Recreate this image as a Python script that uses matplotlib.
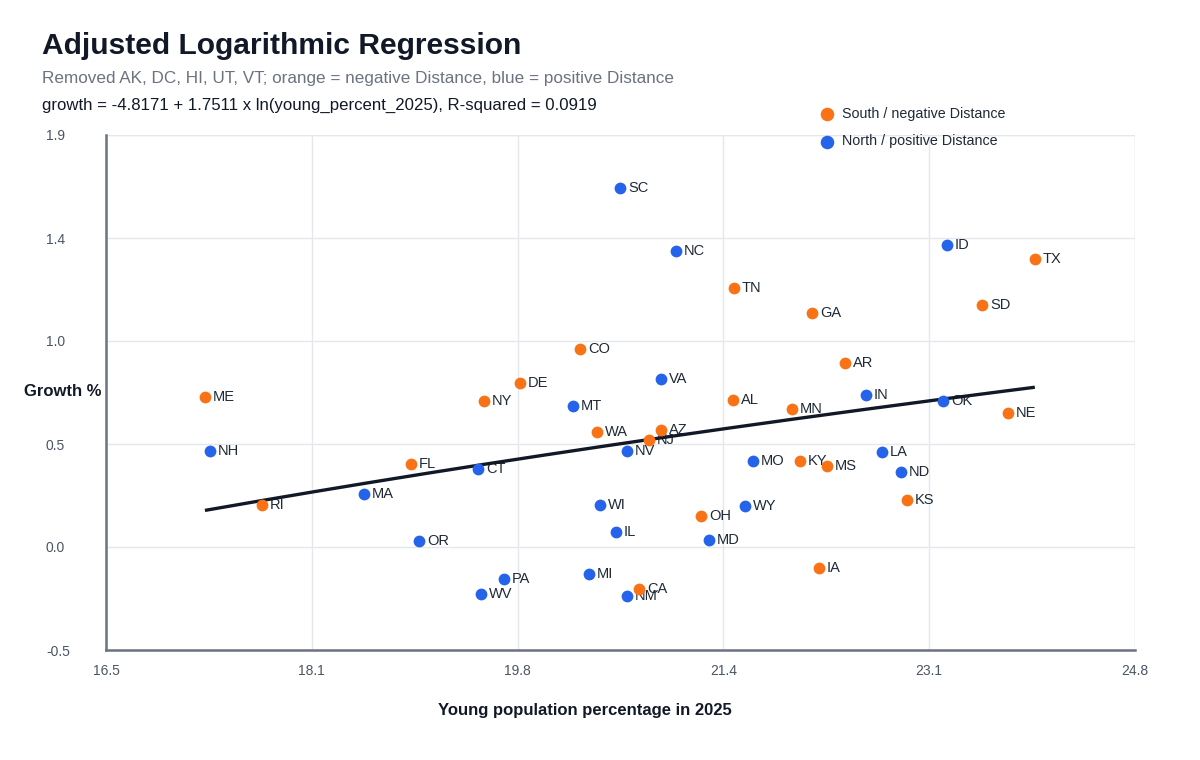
import numpy as np
import matplotlib
matplotlib.use("Agg")
import matplotlib.pyplot as plt

plt.rcParams['font.family'] = ['Liberation Sans', 'DejaVu Sans']

# ---------------- data ----------------
states = ["ME", "NH", "RI", "MA", "FL", "OR", "CT", "NY", "DE", "PA", "WV", "CO",
          "MT", "WA", "MI", "WI", "SC", "IL", "NV", "NM", "CA", "NJ", "AZ", "VA",
          "NC", "OH", "MD", "AL", "TN", "WY", "MO", "MN", "KY", "GA", "IA", "MS",
          "AR", "IN", "LA", "ND", "KS", "OK", "ID", "SD", "NE", "TX"]
young_pct = [17.258, 17.299, 17.718, 18.541, 18.920, 18.984, 19.460, 19.508, 19.799,
             19.670, 19.484, 20.283, 20.226, 20.420, 20.355, 20.444, 20.605, 20.573,
             20.662, 20.662, 20.758, 20.839, 20.936, 20.936, 21.057, 21.258, 21.323,
             21.516, 21.525, 21.613, 21.678, 21.992, 22.057, 22.154, 22.210, 22.275,
             22.420, 22.589, 22.718, 22.871, 22.920, 23.210, 23.242, 23.525, 23.734,
             23.952]
growth = [0.699, 0.447, 0.196, 0.247, 0.387, 0.028, 0.363, 0.680, 0.764, -0.149,
          -0.219, 0.923, 0.657, 0.536, -0.126, 0.196, 1.673, 0.070, 0.447, -0.228,
          -0.196, 0.499, 0.545, 0.783, 1.379, 0.144, 0.033, 0.685, 1.207, 0.191,
          0.401, 0.643, 0.401, 1.090, -0.098, 0.377, 0.857, 0.708, 0.443, 0.349,
          0.219, 0.680, 1.407, 1.128, 0.624, 1.342]
group = ["S", "N", "S", "N", "S", "N", "N", "S", "S", "N", "N", "S",
         "N", "S", "N", "N", "N", "N", "N", "N", "S", "S", "S", "N",
         "N", "S", "N", "S", "S", "N", "N", "S", "S", "S", "S", "S",
         "S", "N", "N", "N", "S", "N", "N", "S", "S", "S"]

intercept = -4.8171
slope = 1.7511

x_ticks = [16.46, 18.12, 19.78, 21.44, 23.10, 24.76]
x_tick_labels = ["16.5", "18.1", "19.8", "21.4", "23.1", "24.8"]
y_ticks = [-0.48, 0.00, 0.48, 0.96, 1.44, 1.92]
y_tick_labels = ["-0.5", "0.0", "0.5", "1.0", "1.4", "1.9"]

legend_labels = {"S": "South / negative Distance", "N": "North / positive Distance"}
colors = {"S": "#f97316", "N": "#2563eb"}

# ---------------- figure ----------------
fig = plt.figure(figsize=(12, 7.6), dpi=100)
ax = fig.add_axes([106 / 1200, 1 - 650 / 760, (1135 - 106) / 1200, (650 - 135) / 760])

ax.set_xlim(x_ticks[0], x_ticks[-1])
ax.set_ylim(y_ticks[0], y_ticks[-1])
ax.set_xticks(x_ticks)
ax.set_xticklabels(x_tick_labels)
ax.set_yticks(y_ticks)
ax.set_yticklabels(y_tick_labels, ha="left")

ax.grid(True, color="#e5e7eb", linewidth=1, zorder=0)
ax.set_axisbelow(True)
for s in ["top", "right"]:
    ax.spines[s].set_visible(False)
for s in ["left", "bottom"]:
    ax.spines[s].set_color("#6b7280")
    ax.spines[s].set_linewidth(1.8)
# plot edge grid lines
ax.axhline(y_ticks[-1], color="#e5e7eb", linewidth=1, zorder=0)
ax.axvline(x_ticks[-1], color="#e5e7eb", linewidth=1, zorder=0)

ax.tick_params(axis="both", length=0, labelsize=10, colors="#4b5563", pad=10)
ax.tick_params(axis="y", pad=43.2)

# trendline
xs = np.linspace(min(young_pct), max(young_pct), 200)
ax.plot(xs, intercept + slope * np.log(xs), color="#111827", linewidth=2.4,
        zorder=3, solid_capstyle="butt")

# points
xa = np.array(young_pct)
ya = np.array(growth)
ga = np.array(group)
for g in ["S", "N"]:
    m = ga == g
    ax.scatter(xa[m], ya[m], s=72, color=colors[g], zorder=4, linewidths=0,
               label=legend_labels[g])

for st, x, y in zip(states, young_pct, growth):
    ax.annotate(st, (x, y), xytext=(8, 0), textcoords="offset pixels",
                ha="left", va="center", fontsize=10.5, color="#1f2937", zorder=2)

# legend
leg = ax.legend(loc="upper left", bbox_to_anchor=(813 / 1200, 1 - 101 / 760),
                bbox_transform=fig.transFigure, frameon=False, fontsize=10.3,
                handletextpad=0.45, labelspacing=0.95, borderaxespad=0,
                handlelength=1.2, markerscale=1.15)
for t in leg.get_texts():
    t.set_color("#1f2937")

# axis titles
fig.text(24 / 1200, 1 - 391 / 760, "Growth %", fontsize=12, fontweight="bold",
         color="#111827", ha="left", va="center")
fig.text(585 / 1200, 1 - 711 / 760, "Young population percentage in 2025", fontsize=12,
         fontweight="bold", color="#111827", ha="center", va="center")

# titles
fig.text(42 / 1200, 1 - 46 / 760, "Adjusted Logarithmic Regression", fontsize=21.6,
         fontweight="bold", color="#111827", ha="left", va="center")
fig.text(42 / 1200, 1 - 78 / 760,
         "Removed AK, DC, HI, UT, VT; orange = negative Distance, blue = positive Distance",
         fontsize=12.3, color="#6b7280", ha="left", va="center")
fig.text(42 / 1200, 1 - 105 / 760,
         "growth = -4.8171 + 1.7511 x ln(young_percent_2025), R-squared = 0.0919",
         fontsize=12.1, color="#111827", ha="left", va="center")

fig.savefig("out.png", dpi=100)
